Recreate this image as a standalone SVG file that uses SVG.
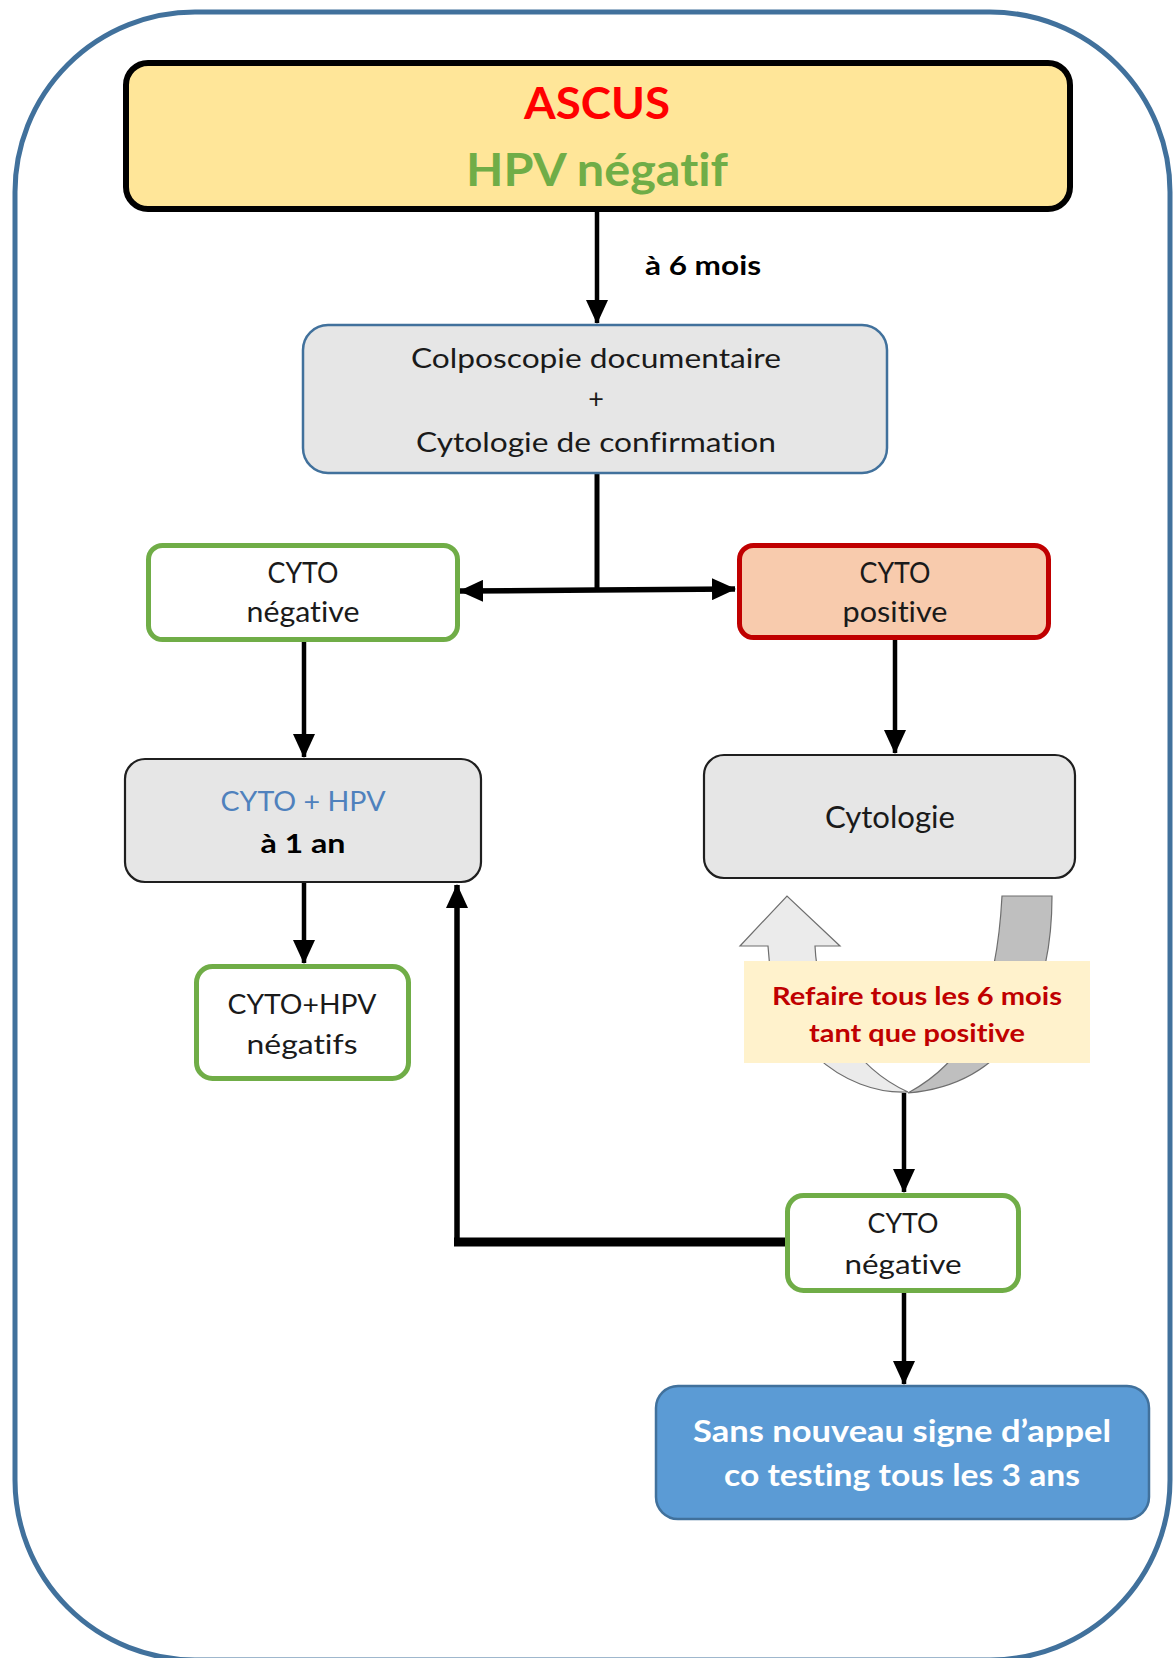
<svg xmlns="http://www.w3.org/2000/svg" width="1173" height="1658" viewBox="0 0 1173 1658">
<defs>
<marker id="ah" markerUnits="userSpaceOnUse" markerWidth="24" markerHeight="22" viewBox="0 0 24 22" refX="23" refY="11" orient="auto">
<path d="M0,0 L24,11 L0,22 Z" fill="#000"/>
</marker>
<style>
text{font-family:Lato,"Open Sans","Liberation Sans",sans-serif;text-anchor:middle;fill:#1a1a1a;font-variant-ligatures:none;font-feature-settings:"liga" 0,"clig" 0}
.b{font-weight:bold}
.t27{font-size:27px}
.box{stroke-linejoin:round}
.green{fill:#fff;stroke:#70ad47;stroke-width:5}
.gray{fill:#e6e6e6;stroke:#1f1f1f;stroke-width:2.2}
.con{fill:none;stroke:#000}
.loop{stroke:#6e6e6e;stroke-width:1.2}
</style>
</defs>
<rect x="15" y="12" width="1155" height="1648" rx="180" ry="180" fill="#fff" stroke="#41719c" stroke-width="5"/>

<g id="connectors">
<line class="con" x1="597" y1="212" x2="597" y2="323" stroke-width="4.5" marker-end="url(#ah)"/>
<line class="con" x1="597" y1="474" x2="597" y2="592" stroke-width="5"/>
<line class="con" x1="597" y1="590" x2="460" y2="591" stroke-width="5.5" marker-end="url(#ah)"/>
<line class="con" x1="597" y1="590" x2="735" y2="589" stroke-width="5.5" marker-end="url(#ah)"/>
<line class="con" x1="304" y1="642" x2="304" y2="757" stroke-width="4.5" marker-end="url(#ah)"/>
<line class="con" x1="304" y1="883" x2="304" y2="963" stroke-width="4.5" marker-end="url(#ah)"/>
<line class="con" x1="895" y1="640" x2="895" y2="753" stroke-width="4.5" marker-end="url(#ah)"/>
<line class="con" x1="904" y1="1093" x2="904" y2="1192" stroke-width="4.5" marker-end="url(#ah)"/>
<line class="con" x1="904" y1="1293" x2="904" y2="1384" stroke-width="4.5" marker-end="url(#ah)"/>
<line class="con" x1="787" y1="1242" x2="454" y2="1242" stroke-width="9"/>
<line class="con" x1="457" y1="1246" x2="457" y2="885" stroke-width="5.5" marker-end="url(#ah)"/>
</g>

<g id="loop">
<path class="loop" fill="#ebebeb" d="M768,946 L740,946 L787,896 L840,946 L815,946 C818,1010 855,1068 908,1092 C845,1095 772,1042 768,946 Z"/>
<path class="loop" fill="#bfbfbf" d="M1002,896 L1052,896 C1052,998 1012,1084 908,1093 C965,1062 996,1010 1002,896 Z"/>
</g>

<g id="n-ascus">
<rect class="box" x="126" y="63" width="944" height="146" rx="22" fill="#ffe699" stroke="#000" stroke-width="6"/>
<text class="b" x="597" y="119" font-size="44" textLength="146" lengthAdjust="spacingAndGlyphs" style="fill:#ff0000">ASCUS</text>
<text class="b" x="597" y="186" font-size="46" textLength="262" lengthAdjust="spacingAndGlyphs" style="fill:#70ad47">HPV négatif</text>
</g>

<g id="l-6mois">
<text class="b" x="645" y="275" font-size="26" textLength="116" lengthAdjust="spacingAndGlyphs" style="text-anchor:start;fill:#000">à 6 mois</text>
</g>

<g id="n-colpo">
<rect class="box" x="303" y="325" width="584" height="148" rx="25" fill="#e6e6e6" stroke="#41719c" stroke-width="2.5"/>
<text class="t27" x="596" y="368" textLength="370" lengthAdjust="spacingAndGlyphs">Colposcopie documentaire</text>
<text class="t27" x="596" y="408">+</text>
<text class="t27" x="596" y="452" textLength="360" lengthAdjust="spacingAndGlyphs">Cytologie de confirmation</text>
</g>

<g id="n-cyto-neg">
<rect class="box green" x="148.5" y="545.5" width="309" height="94" rx="14"/>
<text x="303" y="583" font-size="28" textLength="71" lengthAdjust="spacingAndGlyphs">CYTO</text>
<text x="303" y="622" font-size="28" textLength="113" lengthAdjust="spacingAndGlyphs">négative</text>
</g>

<g id="n-cyto-pos">
<rect class="box" x="739.5" y="545.5" width="309" height="92" rx="14" fill="#f8cbad" stroke="#c00000" stroke-width="5"/>
<text x="895" y="583" font-size="28" textLength="71" lengthAdjust="spacingAndGlyphs">CYTO</text>
<text x="895" y="622" font-size="28" textLength="105" lengthAdjust="spacingAndGlyphs">positive</text>
</g>

<g id="n-cytohpv">
<rect class="box gray" x="125" y="759" width="356" height="123" rx="20"/>
<text class="t27" x="303" y="811" textLength="165" lengthAdjust="spacingAndGlyphs" style="fill:#4f81bd">CYTO + HPV</text>
<text class="t27 b" x="303" y="853" textLength="85" lengthAdjust="spacingAndGlyphs" style="fill:#000">à 1 an</text>
</g>

<g id="n-cytologie">
<rect class="box gray" x="704" y="755" width="371" height="123" rx="20"/>
<text x="890" y="828" font-size="31" textLength="130" lengthAdjust="spacingAndGlyphs">Cytologie</text>
</g>

<g id="n-negatifs">
<rect class="box green" x="196.5" y="966.5" width="212" height="112" rx="16"/>
<text class="t27" x="302" y="1014" textLength="149" lengthAdjust="spacingAndGlyphs">CYTO+HPV</text>
<text class="t27" x="302" y="1054" textLength="111" lengthAdjust="spacingAndGlyphs">négatifs</text>
</g>

<g id="n-refaire">
<rect x="744" y="961" width="346" height="102" fill="#fff2cc"/>
<text class="b" x="917" y="1005" font-size="24" textLength="290" lengthAdjust="spacingAndGlyphs" style="fill:#c00000">Refaire tous les 6 mois</text>
<text class="b" x="917" y="1042" font-size="24" textLength="216" lengthAdjust="spacingAndGlyphs" style="fill:#c00000">tant que positive</text>
</g>

<g id="n-cyto-neg2">
<rect class="box green" x="787.5" y="1195.5" width="231" height="95" rx="16"/>
<text class="t27" x="903" y="1233" textLength="71" lengthAdjust="spacingAndGlyphs">CYTO</text>
<text class="t27" x="903" y="1274" textLength="117" lengthAdjust="spacingAndGlyphs">négative</text>
</g>

<g id="n-cotesting">
<rect class="box" x="656" y="1386" width="493" height="133" rx="22" fill="#5b9bd5" stroke="#41719c" stroke-width="2.5"/>
<text class="b" x="902" y="1442" font-size="30" textLength="418" lengthAdjust="spacingAndGlyphs" style="fill:#fff">Sans nouveau signe d’appel</text>
<text class="b" x="902" y="1486" font-size="30" textLength="356" lengthAdjust="spacingAndGlyphs" style="fill:#fff">co testing tous les 3 ans</text>
</g>
</svg>
